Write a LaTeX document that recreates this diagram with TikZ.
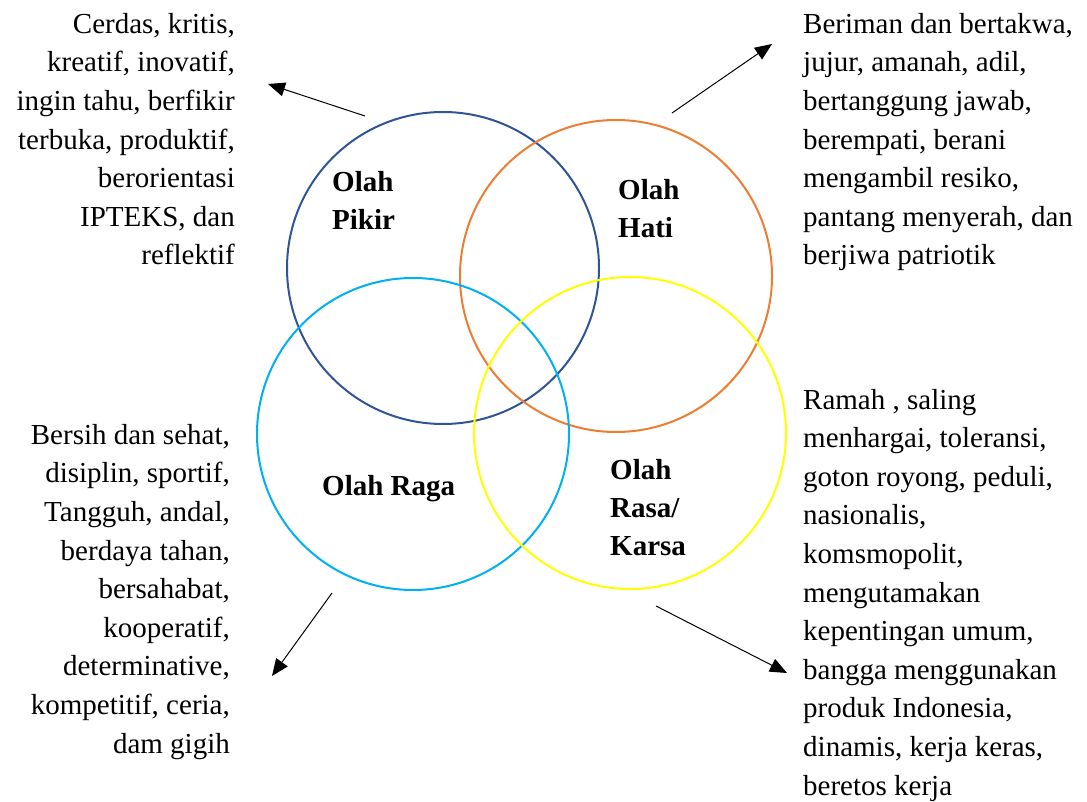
\documentclass[tikz,border=0pt]{standalone}
\usepackage{fontspec}
\setmainfont{Liberation Serif}
\usetikzlibrary{arrows.meta}
\definecolor{pikirblue}{HTML}{2F5597}
\definecolor{hatiorange}{HTML}{ED7D31}
\definecolor{ragablue}{HTML}{00B0F0}
\definecolor{rasayellow}{HTML}{FFFF00}

\begin{document}
\begin{tikzpicture}[
    x=1pt, y=-1pt,
    ring/.style={draw, circle, line width=2pt, minimum size=312pt, inner sep=0pt},
    desc/.style={inner sep=0pt, font=\fontsize{29}{38.6}\selectfont},
    title/.style={inner sep=0pt, align=left, anchor=base west,
                  font=\fontsize{29}{38}\selectfont\bfseries},
    arr/.style={-{Triangle[length=17pt,width=14pt]}, line width=1pt}
  ]
    \useasboundingbox (0,0) rectangle (1087,802);

    \node[ring, pikirblue]  (pikir) at (443,268) {};
    \node[ring, hatiorange] (hati)  at (616,276) {};
    \node[ring, ragablue]   (raga)  at (413,434) {};
    \node[ring, rasayellow] (rasa)  at (630,433) {};

    \node[title] (pikirname) at (332,230) {Olah\\Pikir};
    \node[title] (hatiname)  at (618,238) {Olah\\Hati};
    \node[title] (raganame)  at (322,495) {Olah Raga};
    \node[title] (rasaname)  at (610,555) {Olah\\Rasa/\\Karsa};

    \node[desc, align=right, anchor=base east] (pikirtext) at (235,265)
      {Cerdas, kritis,\\kreatif, inovatif,\\ingin tahu, berfikir\\terbuka, produktif,\\berorientasi\\IPTEKS, dan\\reflektif};
    \node[desc, align=left, anchor=base west] (hatitext) at (803,265)
      {Beriman dan bertakwa,\\jujur, amanah, adil,\\bertanggung jawab,\\berempati, berani\\mengambil resiko,\\pantang menyerah, dan\\berjiwa patriotik};
    \node[desc, align=right, anchor=base east] (ragatext) at (230,753)
      {Bersih dan sehat,\\disiplin, sportif,\\Tangguh, andal,\\berdaya tahan,\\bersahabat,\\kooperatif,\\determinative,\\kompetitif, ceria,\\dam gigih};
    \node[desc, align=left, anchor=base west] (rasatext) at (803,795)
      {Ramah , saling\\menhargai, toleransi,\\goton royong, peduli,\\nasionalis,\\komsmopolit,\\mengutamakan\\kepentingan umum,\\bangga menggunakan\\produk Indonesia,\\dinamis, kerja keras,\\beretos kerja};

    \coordinate (pikirfrom) at (365,116);
    \coordinate (pikirto)   at (268,84);
    \coordinate (hatifrom)  at (672,113);
    \coordinate (hatito)    at (772,44);
    \coordinate (ragafrom)  at (332,593);
    \coordinate (ragato)    at (272,676);
    \coordinate (rasafrom)  at (656,606);
    \coordinate (rasato)    at (787,673);

    \draw[arr] (pikirfrom) -- (pikirto);
    \draw[arr] (hatifrom) -- (hatito);
    \draw[arr] (ragafrom) -- (ragato);
    \draw[arr] (rasafrom) -- (rasato);
  \end{tikzpicture}
\end{document}
